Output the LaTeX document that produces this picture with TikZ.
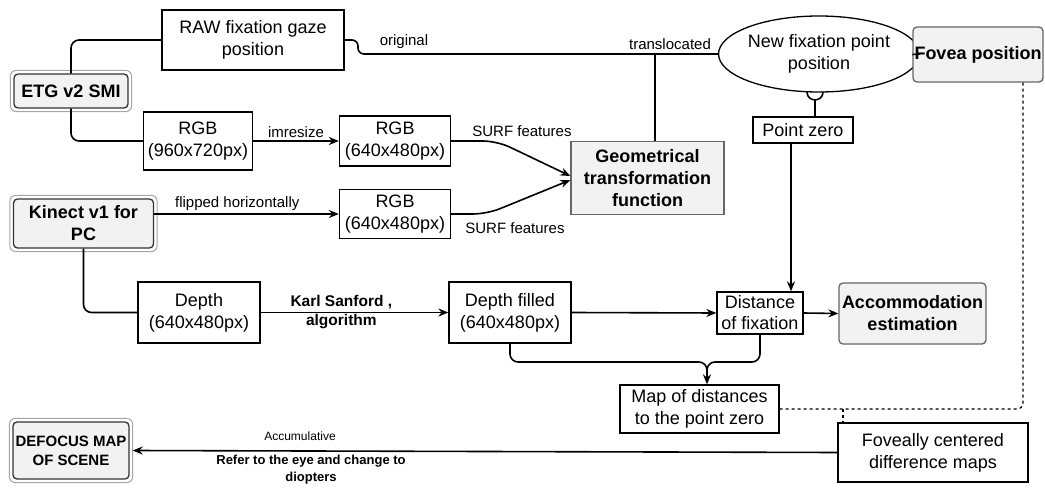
\documentclass[tikz,border=0pt]{standalone}
\usepackage{fontspec}
\setmainfont{Liberation Sans}
\usetikzlibrary{arrows.meta,shapes.geometric,calc}
\definecolor{gfill}{HTML}{F2F2F2}
\definecolor{gline}{HTML}{666666}
\begin{document}
\begin{tikzpicture}[x=1pt,y=-1pt,
  f18/.style={font=\fontsize{18}{22}\selectfont},
  f15/.style={font=\fontsize{15}{18}\selectfont},
  box/.style={draw, line width=1.3pt, fill=white, align=center, inner sep=0pt, f18},
  gbox/.style={box, draw=gline, fill=gfill, font=\fontsize{18}{22}\selectfont\bfseries},
  dblbox/.style={gbox, rounded corners=4pt, draw=black!80},
  conn/.style={line width=1.6pt},
  arr/.style={conn, -{Stealth[length=10pt,width=8pt]}},
  lab/.style={f15, inner sep=1pt},
  outer/.style={gray!70, line width=1pt, rounded corners=6pt},
]
\useasboundingbox (0,0) rectangle (1045,489);

% nodes
\node[box, minimum width=182, minimum height=60] (raw) at (253,40) {RAW fixation gaze\\position};
\node[dblbox, minimum width=114, minimum height=34] (etg) at (71,91) {ETG v2 SMI};
\node[box, minimum width=109, minimum height=58] (rgb1) at (198,141) {RGB\\(960x720px)};
\node[box, minimum width=111, minimum height=50] (rgb2) at (395,141) {RGB\\(640x480px)};
\node[box, minimum width=111, minimum height=49] (rgb3) at (395,214) {RGB\\(640x480px)};
\node[dblbox, minimum width=140, minimum height=49] (kin) at (83.5,223.5) {Kinect v1 for\\PC};
\node[box, minimum width=122, minimum height=61] (dep) at (199,312.5) {Depth\\(640x480px)};
\node[box, minimum width=122, minimum height=61] (dfill) at (510,312.5) {Depth filled\\(640x480px)};
\node[gbox, minimum width=153, minimum height=73] (geo) at (647.5,178) {Geometrical\\transformation\\function};
\node[box, ellipse, minimum width=182, minimum height=76] (ell) at (819,54) {New fixation point\\position};
\node[gbox, rounded corners=4pt, minimum width=130, minimum height=55] (fov) at (978,54.5) {Fovea position};
\node[box, minimum width=100, minimum height=26] (pz) at (803,130) {Point zero};
\node[box, minimum width=86, minimum height=42, font=\fontsize{18}{21}\selectfont] (dist) at (760,313) {Distance\\of fixation};
\node[gbox, rounded corners=4pt, minimum width=147, minimum height=61] (acc) at (912.5,313.5) {Accommodation\\estimation};
\node[box, minimum width=159, minimum height=48] (map) at (699.5,409) {Map of distances\\to the point zero};
\node[box, minimum width=190, minimum height=59] (fcd) at (933,452.5) {Foveally centered\\difference maps};
\node[dblbox, font=\fontsize{15}{19}\selectfont\bfseries, minimum width=116, minimum height=57] (dfm) at (71,450.5) {DEFOCUS MAP\\OF SCENE};

\foreach \n in {etg,kin,dfm}
  \draw[outer] ([shift={(-3pt,3pt)}]\n.north west) rectangle ([shift={(3pt,-3pt)}]\n.south east);

% connectors
\draw[conn, rounded corners=8pt] (etg.north) |- (raw.west);
\draw[conn, rounded corners=8pt] (etg.south) |- (rgb1.west);
\draw[arr] (rgb1.east) -- node[lab, above=2pt] (imr) {imresize} (rgb2.west);

\coordinate (s1) at (497,141);
\coordinate (s2) at (487,214);
\draw[arr, rounded corners=14pt] (rgb2.east) -- (s1) -- ([yshift=2pt]geo.west);
\draw[arr, rounded corners=14pt] (rgb3.east) -- (s2) -- ([yshift=-2pt]geo.west);
\node[lab] (surf1) at (522,131) {SURF features};
\node[lab] (surf2) at (515,228) {SURF features};

\draw[arr] (kin.east |- rgb3.west) -- node[lab, above=2pt, pos=0.45] (flip) {flipped horizontally} (rgb3.west);

\draw[conn, rounded corners=8pt] (kin.south) |- (dep.west);
\draw[arr] (dep.east) -- node[pos=0.43, align=center, inner sep=0pt, font=\fontsize{15.5}{19}\selectfont\bfseries] (karl) {Karl Sanford ,\\algorithm} (dfill.west);
\draw[arr] (dfill.east) -- (dist.west);
\draw[arr] (dist.east) -- (acc.west);

\coordinate (r1) at (358,40);
\coordinate (r2) at (358,54);
\draw[conn, rounded corners=6pt] (raw.east) -- (r1) -- (r2) -- (ell.west);
\node[lab] (orig) at (404,42) {original};
\node[lab] (transl) at (670,44) {translocated};
\draw[conn] ([xshift=7.5pt]geo.north) -- ([xshift=7.5pt]geo.north |- ell.west);
\draw[conn] (ell.east) -- (fov.west);

\coordinate (ua) at (807,92);
\coordinate (ub) at (823,92);
\coordinate (uc) at (815,100);
\draw[conn] (ua) .. controls (807,102.5) and (823,102.5) .. (ub);
\draw[conn] (uc) -- (uc |- pz.north);
\draw[arr] ([xshift=-12pt]pz.south) -- ([xshift=-12pt]pz.south |- dist.north);

\coordinate (j) at (707,362);
\draw[arr, rounded corners=8pt] (dfill.south) |- (j) -- (j |- map.north);
\draw[conn, rounded corners=8pt] (dist.south) |- (j) -- ([yshift=-10pt]j);

\coordinate (dc) at (1023,408);
\coordinate (dk) at (843,409);
\draw[conn, line width=1.2pt, dashed, rounded corners=6pt] (fov.south -| dc) |- (map.east);
\draw[conn, line width=1.2pt, dashed] (dk) -- (dk |- fcd.north);

\draw[arr] (fcd.west) -- ([xshift=3pt]dfm.east);
\node[font=\fontsize{12}{14}\selectfont] (accu) at (300,436) {Accumulative};
\node[align=center, font=\fontsize{13}{17}\selectfont\bfseries] (refer) at (311,470) {Refer to the eye and change to\\diopters};
\end{tikzpicture}
\end{document}
